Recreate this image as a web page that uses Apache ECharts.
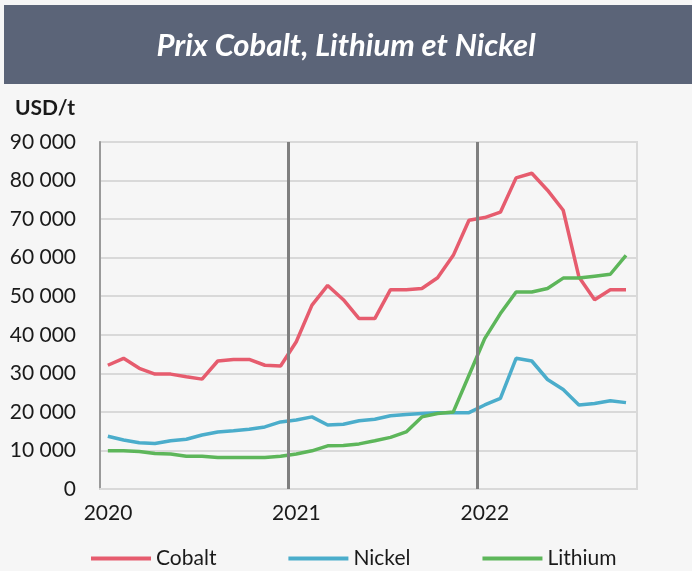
<!DOCTYPE html>
<html>
<head>
<meta charset="utf-8">
<script src="https://cdn.jsdelivr.net/npm/echarts@6/dist/echarts.min.js"></script>
<style>
html,body{margin:0;padding:0;background:#f6f6f6;}
#chart{width:692px;height:571px;}
</style>
</head>
<body>
<div id="chart"></div>
<script>
// Monthly data, Jan 2020 .. Oct 2022
var months = ['2020-01','2020-02','2020-03','2020-04','2020-05','2020-06','2020-07','2020-08','2020-09','2020-10','2020-11','2020-12',
  '2021-01','2021-02','2021-03','2021-04','2021-05','2021-06','2021-07','2021-08','2021-09','2021-10','2021-11','2021-12',
  '2022-01','2022-02','2022-03','2022-04','2022-05','2022-06','2022-07','2022-08','2022-09','2022-10'];
var cobalt = [32100, 33900, 31300, 29800, 29800, 29100, 28500, 33200, 33600, 33600, 32100, 31900,
  38200, 47700, 52800, 49100, 44200, 44200, 51700, 51700, 52000, 54800, 60600, 69700,
  70400, 71800, 80700, 81900, 77500, 72300, 55000, 49100, 51700, 51700];
var nickel = [13700, 12700, 12000, 11800, 12500, 12900, 14000, 14800, 15100, 15500, 16100, 17400,
  17900, 18700, 16600, 16800, 17700, 18100, 19000, 19300, 19600, 19800, 19800, 19800,
  21800, 23500, 33900, 33200, 28400, 25800, 21800, 22200, 22900, 22400];
var lithium = [9900, 9900, 9700, 9200, 9100, 8500, 8500, 8200, 8200, 8200, 8200, 8500,
  9100, 9900, 11200, 11300, 11700, 12500, 13400, 14800, 18700, 19600, 20000, 29500,
  39000, 45500, 51100, 51100, 52000, 54700, 54700, 55200, 55700, 60600];
var seriesNames = ['Cobalt', 'Nickel', 'Lithium'];
var yearLabels = {0: '2020', 12: '2021', 24: '2022'};
var yearLines = [12, 24];

function toPoints(arr) {
  return arr.map(function (v, i) { return [i + 0.5, v, months[i]]; });
}

var FONT = 'Lato';
var chart = echarts.init(document.getElementById('chart'), null, {renderer: 'canvas'});
var option = {
  backgroundColor: '#f6f6f6',
  animation: false,
  title: {
    text: 'Prix Cobalt, Lithium et Nickel',
    left: 'center',
    top: 25,
    textStyle: {color: '#ffffff', fontFamily: FONT, fontSize: 31, fontWeight: 'bold', fontStyle: 'italic'}
  },
  graphic: [
    {type: 'rect', z: -1, shape: {x: 4, y: 5, width: 700, height: 79}, style: {fill: '#5b6478'}},
    {type: 'text', left: 15, top: 98, style: {text: 'USD/t', fill: '#1a1a1a', font: 'bold 21px Lato'}}
  ],
  legend: {
    left: 86,
    top: 543,
    icon: 'rect',
    itemWidth: 60,
    itemHeight: 4,
    itemGap: 72,
    textStyle: {color: '#1a1a1a', fontFamily: FONT, fontSize: 21},
    data: seriesNames
  },
  grid: {left: 100, right: 55, top: 142, bottom: 82, containLabel: false, outerBoundsMode: 'none',
         show: true, borderColor: '#d9d9d9', borderWidth: 2, backgroundColor: 'transparent'},
  xAxis: {
    type: 'value', min: 0, max: 34.2, interval: 12,
    axisLine: {show: true, lineStyle: {color: '#d9d9d9', width: 2}},
    axisTick: {show: false},
    splitLine: {show: false},
    axisLabel: {
      margin: 14,
      padding: [0, 0, 0, 16],
      showMaxLabel: false,
      color: '#1a1a1a', fontFamily: FONT, fontSize: 21,
      formatter: function (v) { return yearLabels[v] !== undefined ? yearLabels[v] : ''; }
    }
  },
  yAxis: {
    type: 'value', min: 0, max: 90000, interval: 10000,
    axisLine: {show: true, lineStyle: {color: '#9a9a9a', width: 2}},
    axisTick: {show: false},
    splitLine: {show: true, lineStyle: {color: '#d9d9d9', width: 2}},
    axisLabel: {
      margin: 24,
      color: '#1a1a1a', fontFamily: FONT, fontSize: 21,
      formatter: function (v) { return String(v).replace(/\B(?=(\d{3})+(?!\d))/g, ' '); }
    }
  },
  series: [
    {name: 'Cobalt', type: 'line', data: toPoints(cobalt), symbol: 'none', color: '#e65c6e',
     lineStyle: {width: 3.5}, z: 3,
     markLine: {silent: true, symbol: 'none', label: {show: false},
       lineStyle: {color: '#7f7f7f', width: 3, type: 'solid'},
       data: yearLines.map(function (x) { return {xAxis: x}; })}},
    {name: 'Nickel', type: 'line', data: toPoints(nickel), symbol: 'none', color: '#4badcb',
     lineStyle: {width: 3.5}, z: 3},
    {name: 'Lithium', type: 'line', data: toPoints(lithium), symbol: 'none', color: '#5db65a',
     lineStyle: {width: 3.5}, z: 3}
  ]
};
chart.setOption(option);
</script>
</body>
</html>
